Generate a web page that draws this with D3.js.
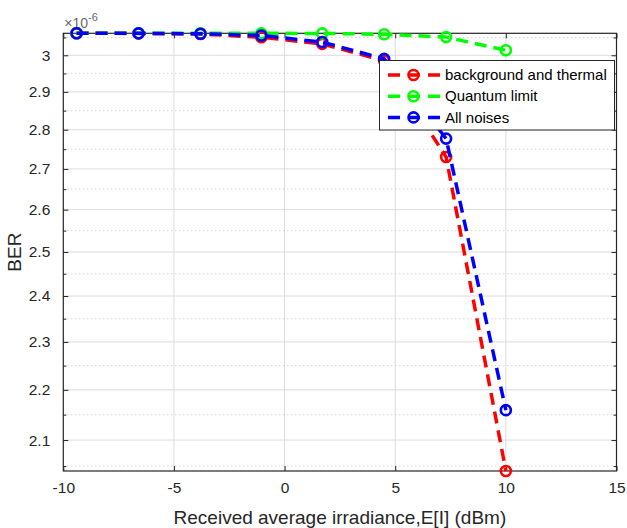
<!DOCTYPE html>
<html>
<head>
<meta charset="utf-8">
<script src="https://cdn.jsdelivr.net/npm/d3@7/dist/d3.min.js"></script>
<style>
  html, body { margin: 0; padding: 0; background: #ffffff; }
  svg { display: block; font-family: "Liberation Sans", Arial, sans-serif; }
</style>
</head>
<body>
<svg id="chart" width="627" height="528"></svg>
<script>
// ---- data (BER values in units of 1e-6) ----
const xValues = [-9.4, -6.6, -3.8, -1.05, 1.7, 4.5, 7.3, 10];
const seriesNames = ["background and thermal", "Quantum limit", "All noises"];
const backgroundThermal = [3.0618, 3.0615, 3.0600, 3.0505, 3.0320, 2.9850, 2.7300, 2.0406];
const quantumLimit      = [3.0618, 3.0618, 3.0618, 3.0617, 3.0615, 3.0590, 3.0510, 3.0140];
const allNoises         = [3.0618, 3.0616, 3.0605, 3.0555, 3.0370, 2.9900, 2.7770, 2.1590];
const xTicks = [-10, -5, 0, 5, 10, 15];
const xTickLabels = ["-10", "-5", "0", "5", "10", "15"];
const yTicks = [2.1, 2.2, 2.3, 2.4, 2.5, 2.6, 2.7, 2.8, 2.9, 3.0];
const yTickLabels = ["2.1", "2.2", "2.3", "2.4", "2.5", "2.6", "2.7", "2.8", "2.9", "3"];
const yMinorTicks = [2.05, 2.15, 2.25, 2.35, 2.45, 2.55, 2.65, 2.75, 2.85, 2.95, 3.05];
const xLabel = "Received average irradiance,E[I] (dBm)";
const yLabel = "BER";

// ---- layout ----
const L = 63.3, R = 616.5, T = 33.3, B = 471;
const colors = ["#ff0000", "#00ff00", "#0000ff"];
const axisColor = "#262626";

const svg = d3.select("#chart");
const allVals = backgroundThermal.concat(quantumLimit, allNoises);
const x = d3.scaleLinear().domain([xTicks[0], xTicks[xTicks.length - 1]]).range([L, R]);
const y = d3.scaleLog().domain(d3.extent(allVals)).range([B, T]);

// grid
const grid = svg.append("g");
grid.selectAll("line.vx").data(xTicks.slice(1, -1)).join("line")
  .attr("x1", d => x(d)).attr("x2", d => x(d)).attr("y1", T).attr("y2", B)
  .attr("stroke", "#dcdcdc").attr("stroke-width", 1);
grid.selectAll("line.hy").data(yTicks).join("line")
  .attr("x1", L).attr("x2", R).attr("y1", d => y(d)).attr("y2", d => y(d))
  .attr("stroke", "#dcdcdc").attr("stroke-width", 1);
grid.selectAll("line.hm").data(yMinorTicks).join("line")
  .attr("x1", L).attr("x2", R).attr("y1", d => y(d)).attr("y2", d => y(d))
  .attr("stroke", "#c4c4c4").attr("stroke-width", 1).attr("stroke-dasharray", "1,3");

// axes via d3 axis generators (ticks inward)
const axB = svg.append("g").attr("transform", `translate(0,${B})`)
  .call(d3.axisBottom(x).tickValues(xTicks).tickSize(-5).tickPadding(11)
    .tickFormat((d, i) => xTickLabels[i]));
const axT = svg.append("g").attr("transform", `translate(0,${T})`)
  .call(d3.axisTop(x).tickValues(xTicks).tickSize(-5).tickFormat(""));
const axL = svg.append("g").attr("transform", `translate(${L},0)`)
  .call(d3.axisLeft(y).tickValues(yTicks).tickSize(-5).tickPadding(13)
    .tickFormat((d, i) => yTickLabels[i]));
const axR = svg.append("g").attr("transform", `translate(${R},0)`)
  .call(d3.axisRight(y).tickValues(yTicks).tickSize(-5).tickFormat(""));
const axLm = svg.append("g").attr("transform", `translate(${L},0)`)
  .call(d3.axisLeft(y).tickValues(yMinorTicks).tickSize(-3).tickFormat(""));
const axRm = svg.append("g").attr("transform", `translate(${R},0)`)
  .call(d3.axisRight(y).tickValues(yMinorTicks).tickSize(-3).tickFormat(""));
[axB, axT, axL, axR, axLm, axRm].forEach(g => {
  g.select(".domain").remove();
  g.selectAll(".tick line").attr("stroke", axisColor).attr("stroke-width", 1);
  g.selectAll(".tick text").attr("fill", axisColor).style("font-size", "15.5px")
    .style("font-family", "'Liberation Sans', Arial, sans-serif");
});
svg.append("rect").attr("x", L).attr("y", T).attr("width", R - L).attr("height", B - T)
  .attr("fill", "none").attr("stroke", axisColor).attr("stroke-width", 1.2);

// exponent label
const ex = svg.append("text").attr("x", L + 1).attr("y", 28).attr("fill", "#6a6a6a")
  .style("font-size", "14px");
ex.append("tspan").text("\u00d710");
ex.append("tspan").attr("dy", -7).style("font-size", "11px").text("-6");

// axis labels
svg.append("text").attr("x", (L + R) / 2).attr("y", 524).attr("text-anchor", "middle")
  .attr("fill", axisColor).style("font-size", "19px").text(xLabel);
svg.append("text").attr("transform", `translate(21,${(T + B) / 2}) rotate(-90)`)
  .attr("text-anchor", "middle").attr("fill", axisColor).style("font-size", "19px").text(yLabel);

// series
const series = [backgroundThermal, quantumLimit, allNoises];
const line = d3.line().x((d, i) => x(xValues[i])).y(d => y(d));
series.forEach((vals, k) => {
  const g = svg.append("g");
  g.append("path").datum(vals).attr("d", line)
    .attr("fill", "none").attr("stroke", colors[k]).attr("stroke-width", 3.5)
    .attr("stroke-dasharray", "12,7");
  g.selectAll("circle").data(vals).join("circle")
    .attr("cx", (d, i) => x(xValues[i])).attr("cy", d => y(d)).attr("r", 5)
    .attr("fill", "none").attr("stroke", colors[k]).attr("stroke-width", 2.6);
});

// legend
const lg = svg.append("g");
lg.append("rect").attr("x", 379.5).attr("y", 60.5).attr("width", 235).attr("height", 69.5)
  .attr("fill", "#ffffff").attr("stroke", axisColor).attr("stroke-width", 1);
seriesNames.forEach((name, k) => {
  const yy = 75 + k * 21.2;
  lg.append("line").attr("x1", 388).attr("x2", 440).attr("y1", yy).attr("y2", yy)
    .attr("stroke", colors[k]).attr("stroke-width", 3.5).attr("stroke-dasharray", "12,8");
  lg.append("circle").attr("cx", 413.5).attr("cy", yy).attr("r", 5)
    .attr("fill", "none").attr("stroke", colors[k]).attr("stroke-width", 2.6);
  lg.append("text").attr("x", 445).attr("y", yy).attr("dy", "0.35em")
    .attr("fill", "#000").style("font-size", "15px").text(name);
});
</script>
</body>
</html>
